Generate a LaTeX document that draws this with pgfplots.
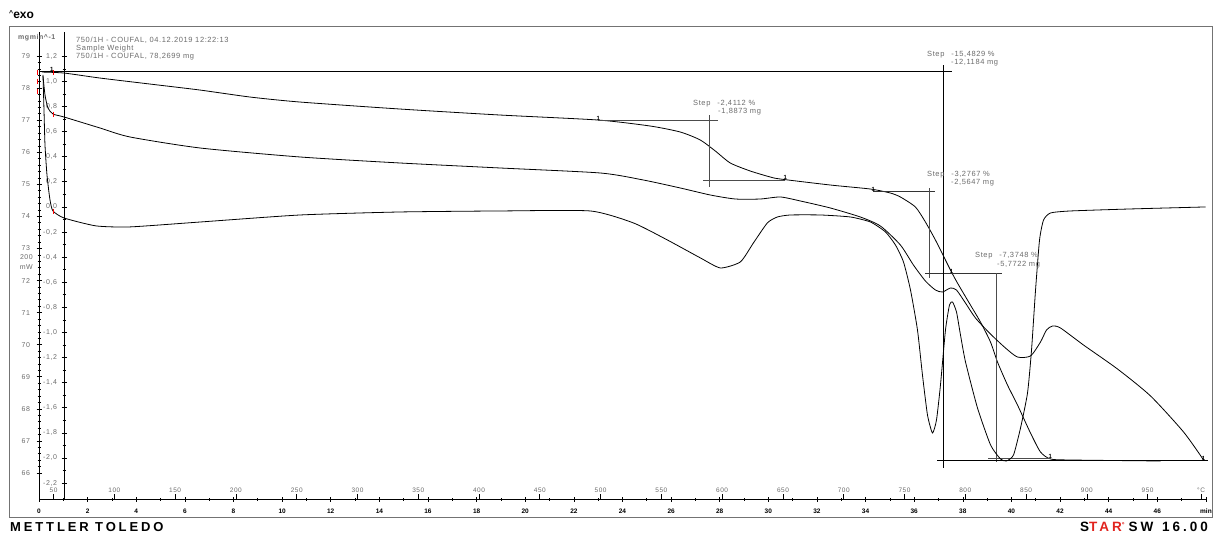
\documentclass[border=0pt]{standalone}
\usepackage{fontspec}
\setmainfont{Liberation Sans}
\newfontfamily\labfont[LetterSpace=8]{Liberation Sans}
\newfontfamily\brandfont[LetterSpace=22]{Liberation Sans}
\usepackage{pgfplots}
\pgfplotsset{compat=1.18}
\definecolor{lab}{gray}{0.42}
\definecolor{starred}{RGB}{225,35,30}

\pgfplotstableread{
t m
0.123 78.501
1.029 78.470
2.510 78.314
4.568 78.127
6.626 77.940
8.683 77.722
10.741 77.566
14.856 77.348
18.971 77.161
23.004 77.005
25.144 76.818
26.379 76.631
27.202 76.382
27.819 76.039
28.436 75.665
29.259 75.415
30.082 75.228
30.494 75.166
32.551 74.979
34.198 74.854
35.021 74.729
35.432 74.605
36.049 74.293
36.461 73.825
36.872 73.264
37.284 72.641
37.531 72.267
37.778 71.924
38.189 71.394
38.724 70.708
39.136 70.085
39.424 69.461
39.835 68.744
40.247 68.121
40.782 67.248
41.193 66.656
41.605 66.437
42.428 66.406
46.132 66.375
}\tga

\pgfplotstableread{
t d
0.165 1.052
0.206 0.773
0.247 0.494
0.329 0.255
0.453 0.056
0.576 -0.032
1.029 -0.088
2.346 -0.151
3.745 -0.159
6.626 -0.120
10.741 -0.064
14.856 -0.040
18.971 -0.032
22.675 -0.032
24.444 -0.127
25.844 -0.263
27.202 -0.406
28.025 -0.486
28.848 -0.438
29.383 -0.287
29.959 -0.127
30.370 -0.080
30.905 -0.064
32.140 -0.064
33.374 -0.080
34.198 -0.120
34.815 -0.199
35.226 -0.303
35.556 -0.438
35.844 -0.661
36.132 -0.980
36.337 -1.339
36.543 -1.657
36.749 -1.801
36.914 -1.697
37.078 -1.418
37.284 -0.980
37.449 -0.781
37.572 -0.757
37.737 -0.837
37.901 -1.020
38.107 -1.235
38.601 -1.602
39.136 -1.896
39.547 -2.008
39.794 -2.024
40.082 -1.976
40.370 -1.761
40.658 -1.482
40.823 -1.139
40.988 -0.661
41.152 -0.263
41.317 -0.104
41.605 -0.048
42.428 -0.032
44.897 -0.016
47.984 0.000
}\dtg

\pgfplotstableread{
t q
0.165 409.4
0.247 350.0
0.370 309.4
0.576 290.6
1.029 281.3
2.510 246.9
3.745 218.8
6.626 184.4
10.741 156.3
14.856 137.5
18.971 121.9
23.086 106.3
24.856 84.4
26.379 59.4
27.613 37.5
28.642 25.0
29.671 25.0
30.494 31.3
31.317 18.8
32.551 -3.1
33.786 -31.3
34.609 -59.4
35.432 -118.8
35.967 -181.3
36.461 -231.3
36.872 -259.4
37.160 -265.6
37.490 -253.1
37.737 -259.4
38.107 -300.0
38.519 -346.9
39.136 -396.9
39.753 -440.6
40.247 -468.8
40.782 -465.6
41.193 -421.9
41.440 -384.4
41.687 -371.9
42.016 -378.1
42.963 -431.3
44.362 -506.3
45.720 -590.6
47.078 -703.1
47.901 -790.6
}\dsc

\begin{document}
\begin{tikzpicture}[x=1pt,y=1pt]
\path[use as bounding box] (0,0) rectangle (1218,536);
\draw[black!55, line width=0.9pt] (9,19) rectangle (1212,510);

% ---------------- TGA axis (mg) ----------------
\begin{axis}[
  at={(39pt,37pt)}, anchor=south west, scale only axis,
  width=1167pt, height=467pt,
  xmin=0, xmax=48, ymin=65.19, ymax=79.75,
  axis x line=bottom, axis y line=left,
  x axis line style={-}, y axis line style={-},
  axis line style={line width=0.9pt},
  clip=false,
  xtick={0,2,...,48},
  xticklabels={0,2,4,6,8,10,12,14,16,18,20,22,24,26,28,30,32,34,36,38,40,42,44,46,min},
  minor x tick num=1,
  ytick={66,...,79}, minor y tick num=4,
  tick align=center,
  major tick length=5pt, minor tick length=3pt,
  every tick/.style={black, line width=0.7pt},
  xticklabel style={font=\fontsize{6.5}{7}\selectfont\bfseries, yshift=-4pt},
  yticklabel style={font=\fontsize{7}{8}\selectfont\labfont, text=lab, xshift=-3pt},
  /pgf/number format/assume math mode=true,
  extra x ticks={0.6,3.1,5.6,8.1,10.6,13.1,15.6,18.1,20.6,23.1,25.6,28.1,30.6,33.1,35.6,38.1,40.6,43.1,45.6,47.8},
  extra x tick labels={50,100,150,200,250,300,350,400,450,500,550,600,650,700,750,800,850,900,950,\textdegree C},
  extra x tick style={tick align=inside, major tick length=5pt,
     xticklabel style={font=\fontsize{6.5}{7}\selectfont\mdseries\labfont, text=lab, yshift=19pt}},
]
\addplot[black, line width=0.8pt, smooth, tension=0.4] table[x=t,y=m] {\tga};
% step evaluation lines
\addplot[black!70, line width=0.5pt] coordinates {(23.004,77.005) (27.942,77.005)};
\addplot[black!70, line width=0.5pt] coordinates {(27.572,77.161) (27.572,74.916)};
\addplot[black!70, line width=0.5pt] coordinates {(27.325,75.118) (30.70,75.118)};
\addplot[black!80, line width=0.8pt] coordinates {(34.321,74.792) (36.872,74.792)};
\addplot[black!70, line width=0.5pt] coordinates {(36.626,74.885) (36.626,72.08)};
\addplot[black!80, line width=0.8pt] coordinates {(36.461,72.227) (39.630,72.227)};
\addplot[black!70, line width=0.5pt] coordinates {(39.383,72.227) (39.383,66.344)};
\addplot[black!70, line width=0.5pt] coordinates {(39.053,66.455) (41.605,66.455)};
\addplot[black, line width=1.0pt] coordinates {(0.04,78.52) (37.57,78.52)};
\addplot[black, line width=1.0pt] coordinates {(37.202,78.72) (37.202,66.16)};
\addplot[black, line width=1.0pt] coordinates {(36.955,66.40) (48.1,66.40)};
% limit markers
\addplot[only marks, mark=text, text mark={\fontsize{6}{6}\selectfont\bfseries 1},
  every mark/.append style={yshift=2pt}] coordinates {(0.53,78.52) (23.004,77.005) (30.70,75.15) (34.32,74.79) (37.53,72.23) (41.60,66.45)};
\addplot[only marks, red, mark=|, mark size=2.5pt] coordinates {(-0.08,78.50) (-0.08,78.22) (-0.08,77.88) (0.57,78.48)};
\end{axis}

% ---------------- DTG axis (mg/min) ----------------
\begin{axis}[
  at={(64pt,37pt)}, anchor=south west, scale only axis,
  width=1142pt, height=467pt,
  xmin=1.029, xmax=48, ymin=-2.327, ymax=1.394,
  axis x line=none, axis y line=left,
  y axis line style={-}, axis line style={line width=0.9pt},
  clip=false,
  ytick={-2.2,-2.0,-1.8,-1.6,-1.4,-1.2,-1.0,-0.8,-0.6,-0.4,-0.2,0,0.2,0.4,0.6,0.8,1.0,1.2},
  minor y tick num=1,
  tick align=center, major tick length=5pt, minor tick length=3pt,
  every tick/.style={black, line width=0.7pt},
  yticklabel style={font=\fontsize{7}{8}\selectfont\labfont, text=lab, xshift=-1pt},
  /pgf/number format/fixed, /pgf/number format/fixed zerofill,
  /pgf/number format/precision=1, /pgf/number format/use comma,
  /pgf/number format/assume math mode=true,
]
\addplot[black, line width=0.8pt, smooth, tension=0.35] table[x=t,y=d] {\dtg};
\addplot[only marks, red, mark=|, mark size=2.5pt] coordinates {(0.57,-0.04)};
\end{axis}

% ---------------- DSC axis (mW, hidden) ----------------
\begin{axis}[
  at={(39pt,37pt)}, anchor=south west, scale only axis,
  width=1167pt, height=467pt,
  xmin=0, xmax=48, ymin=-912.5, ymax=546.9,
  hide axis, clip=false,
]
\addplot[black, line width=0.8pt, smooth, tension=0.4] table[x=t,y=q] {\dsc};
\addplot[only marks, mark=text, text mark={\fontsize{6}{6}\selectfont\bfseries 1},
  every mark/.append style={yshift=2pt}] coordinates {(47.90,-790.6)};
\addplot[only marks, red, mark=|, mark size=2.5pt] coordinates {(0.57,290)};
\end{axis}

% ---------------- texts ----------------
\node[anchor=west, inner sep=0, font=\fontsize{12}{14}\selectfont\bfseries] at (9,521) {\raisebox{3pt}{\fontsize{7}{7}\selectfont\textasciicircum}exo};
\node[anchor=west, inner sep=0, font=\fontsize{7}{8}\selectfont\bfseries\labfont, text=lab] at (18,498) {mgmin\textasciicircum-1};
\node[anchor=north west, inner sep=0, align=left, font=\fontsize{7.5}{8}\selectfont\labfont, text=lab] at (76,499)
  {750/1H - COUFAL, 04.12.2019 12:22:13\\Sample Weight\\750/1H - COUFAL, 78,2699 mg};
\node[anchor=east, inner sep=0, font=\fontsize{7}{8}\selectfont\labfont, text=lab] at (33,279) {200};
\node[anchor=east, inner sep=0, font=\fontsize{7}{8}\selectfont\labfont, text=lab] at (33,269) {mW};

\begin{scope}[every node/.style={anchor=west, inner sep=0, font=\fontsize{7.5}{8}\selectfont\labfont, text=lab}]
\node at (927,481) {Step\hspace{7pt}-15,4829 \%};
\node at (951,473) {-12,1184 mg};
\node at (693,432) {Step\hspace{7pt}-2,4112 \%};
\node at (718,424) {-1,8873 mg};
\node at (927,361) {Step\hspace{7pt}-3,2767 \%};
\node at (951,353) {-2,5647 mg};
\node at (975,280) {Step\hspace{7pt}-7,3748 \%};
\node at (997,271) {-5,7722 mg};
\end{scope}

\node[anchor=west, inner sep=0, font=\fontsize{13}{14}\selectfont\bfseries\brandfont] at (10,9) {METTLER TOLEDO};
\node[anchor=east, inner sep=0, font=\fontsize{13.5}{14}\selectfont\bfseries\brandfont] at (1208,9)
  {S\textcolor{starred}{TAR}\raisebox{4pt}{\textcolor{starred}{\fontsize{7}{7}\selectfont\textdegree}}\hspace{4pt}SW\hspace{2pt} 16.00};
\end{tikzpicture}
\end{document}
